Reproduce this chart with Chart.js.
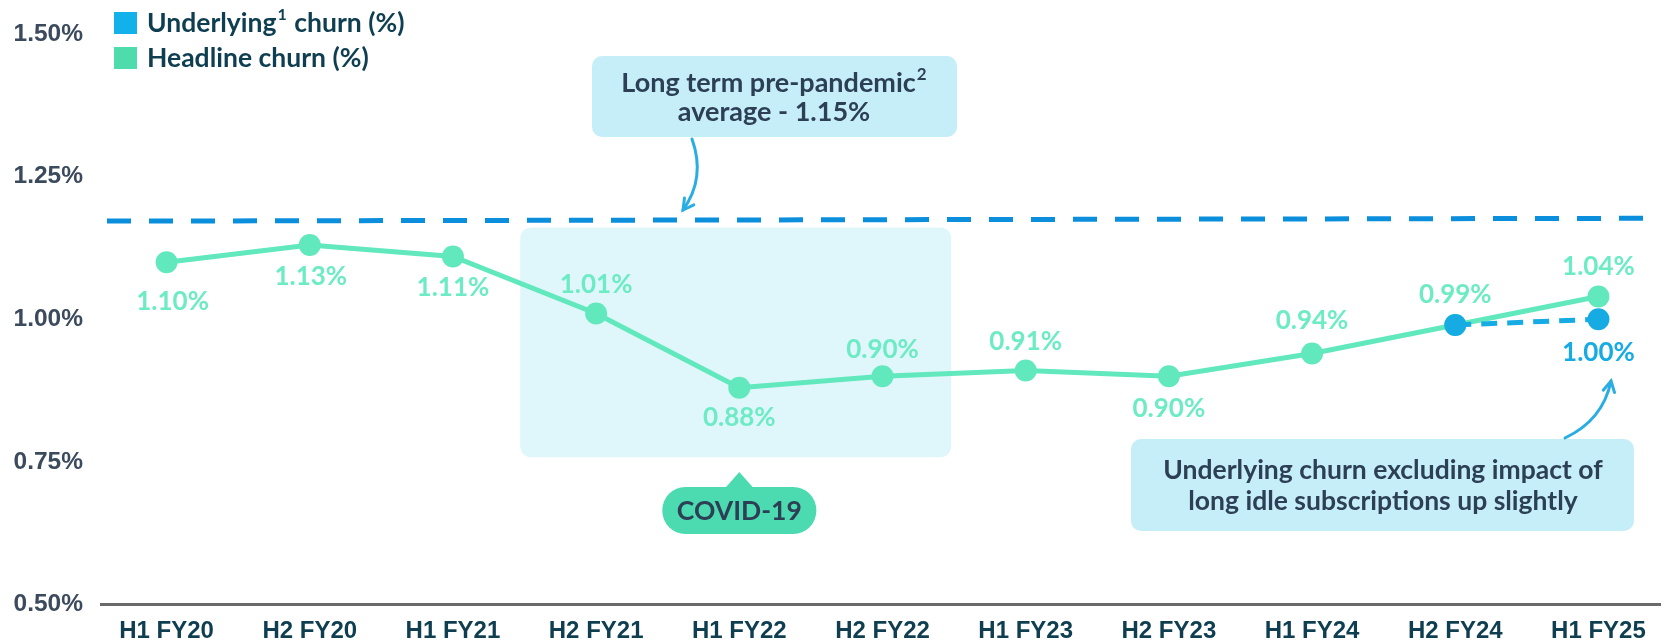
<!DOCTYPE html>
<html>
<head>
<meta charset="utf-8">
<script src="https://cdn.jsdelivr.net/npm/chart.js@4.4.1/dist/chart.umd.min.js"></script>
<style>
  html, body { margin: 0; padding: 0; background: #ffffff; }
  #wrap { width: 1671px; height: 643px; position: relative; }
</style>
</head>
<body>
<div id="wrap"><canvas id="c" width="1671" height="643"></canvas></div>
<script>
// ---- data ----
const categories = ['H1 FY20', 'H2 FY20', 'H1 FY21', 'H2 FY21', 'H1 FY22', 'H2 FY22', 'H1 FY23', 'H2 FY23', 'H1 FY24', 'H2 FY24', 'H1 FY25'];
const headlineChurn = [1.10, 1.13, 1.11, 1.01, 0.88, 0.90, 0.91, 0.90, 0.94, 0.99, 1.04];
const underlyingChurn = [null, null, null, null, null, null, null, null, null, 0.99, 1.00];
const yTickValues = [0.50, 0.75, 1.00, 1.25, 1.50];
const prePandemicLine = [1.172, 1.177]; // drawn level at left / right end
const covidRange = [2.47, 5.48];        // category-index span of the COVID-19 shading
const covidLabelAt = 4;                 // category index under the COVID-19 tag

// ---- label placement (style) ----
const headlineLabelDy = [39, 32, 31, -29, 30, -27, -29, 32, -33, -30, -30];
const headlineLabelDx = [6, 1, 0, 0, 0, 0, 0, 0, 0, 0, 0];
const underlyingLabelDy = 33;

const GREEN_LINE = '#62e8bd';
const GREEN_LABEL = '#6debc4';
const BLUE = '#17abe4';
const NAVY = '#2c3f55';
const TEAL_NAVY = '#0e3e50';
const TEXT_FONT = 'Lato, "Noto Sans", sans-serif';

function roundRect(ctx, x, y, w, h, r) {
  ctx.beginPath();
  ctx.moveTo(x + r, y);
  ctx.lineTo(x + w - r, y);
  ctx.arcTo(x + w, y, x + w, y + r, r);
  ctx.lineTo(x + w, y + h - r);
  ctx.arcTo(x + w, y + h, x + w - r, y + h, r);
  ctx.lineTo(x + r, y + h);
  ctx.arcTo(x, y + h, x, y + h - r, r);
  ctx.lineTo(x, y + r);
  ctx.arcTo(x, y, x + r, y, r);
  ctx.closePath();
}

function supText(ctx, main, sup, x, y, size, align) {
  ctx.font = 'bold ' + size + 'px ' + TEXT_FONT;
  const w1 = ctx.measureText(main).width;
  ctx.font = 'bold ' + Math.round(size * 0.62) + 'px ' + TEXT_FONT;
  const w2 = sup ? ctx.measureText(sup).width + 1 : 0;
  let x0 = x;
  if (align === 'center') x0 = x - (w1 + w2) / 2;
  ctx.textAlign = 'left';
  ctx.textBaseline = 'middle';
  ctx.font = 'bold ' + size + 'px ' + TEXT_FONT;
  ctx.fillText(main, x0, y);
  if (sup) {
    ctx.font = 'bold ' + Math.round(size * 0.62) + 'px ' + TEXT_FONT;
    ctx.fillText(sup, x0 + w1 + 1, y - size * 0.3);
  }
  return w1 + w2;
}

function arrow(ctx, sx, sy, cx, cy, ex, ey) {
  ctx.save();
  ctx.strokeStyle = '#2aaee2';
  ctx.lineWidth = 3;
  ctx.lineCap = 'round';
  ctx.beginPath();
  ctx.moveTo(sx, sy);
  ctx.quadraticCurveTo(cx, cy, ex, ey);
  ctx.stroke();
  const a = Math.atan2(ey - cy, ex - cx);
  const L = 12;
  ctx.beginPath();
  ctx.moveTo(ex - L * Math.cos(a - 0.5), ey - L * Math.sin(a - 0.5));
  ctx.lineTo(ex, ey);
  ctx.lineTo(ex - L * Math.cos(a + 0.5), ey - L * Math.sin(a + 0.5));
  ctx.stroke();
  ctx.restore();
}

const decorations = {
  id: 'decorations',
  beforeDatasetsDraw(chart) {
    const { ctx, scales: { x, y }, chartArea } = chart;
    ctx.save();
    // COVID shading
    const bx0 = x.getPixelForValue(covidRange[0]);
    const bx1 = x.getPixelForValue(covidRange[1]);
    const by0 = y.getPixelForValue(1.161);
    const by1 = y.getPixelForValue(0.758);
    ctx.fillStyle = '#dff6fb';
    roundRect(ctx, bx0, by0, bx1 - bx0, by1 - by0, 11);
    ctx.fill();
    // pre-pandemic average dashed line
    ctx.strokeStyle = '#0b8fdc';
    ctx.lineWidth = 5;
    ctx.setLineDash([24, 18]);
    ctx.beginPath();
    ctx.moveTo(chartArea.left + 6, y.getPixelForValue(prePandemicLine[0]));
    ctx.lineTo(chartArea.right, y.getPixelForValue(prePandemicLine[1]));
    ctx.stroke();
    ctx.setLineDash([]);
    ctx.restore();
  },
  afterDatasetsDraw(chart) {
    const { ctx, scales: { x, y } } = chart;
    ctx.save();
    // data labels
    ctx.font = 'bold 26px ' + TEXT_FONT;
    ctx.textAlign = 'center';
    ctx.textBaseline = 'middle';
    ctx.fillStyle = GREEN_LABEL;
    headlineChurn.forEach((v, i) => {
      const px = x.getPixelForValue(i) + headlineLabelDx[i];
      const py = y.getPixelForValue(v) + headlineLabelDy[i];
      ctx.fillText(v.toFixed(2) + '%', px, py);
    });
    ctx.fillStyle = BLUE;
    const last = underlyingChurn.length - 1;
    ctx.fillText(underlyingChurn[last].toFixed(2) + '%', x.getPixelForValue(last), y.getPixelForValue(underlyingChurn[last]) + underlyingLabelDy);

    // pre-pandemic callout
    ctx.fillStyle = '#c6eef9';
    roundRect(ctx, 592, 56, 365, 81, 10);
    ctx.fill();
    ctx.fillStyle = NAVY;
    supText(ctx, 'Long term pre-pandemic', '2', 774, 83, 27, 'center');
    supText(ctx, 'average - 1.15%', '', 774, 112, 27, 'center');
    arrow(ctx, 692, 139, 706, 178, 683, 210);

    // underlying callout
    ctx.fillStyle = '#c6eef9';
    roundRect(ctx, 1131, 439, 503, 92, 10);
    ctx.fill();
    ctx.fillStyle = NAVY;
    supText(ctx, 'Underlying churn excluding impact of', '', 1383, 470, 26.5, 'center');
    supText(ctx, 'long idle subscriptions up slightly', '', 1383, 501, 26.5, 'center');
    arrow(ctx, 1565, 438, 1603, 420, 1611, 381);

    // COVID-19 tag
    const cx = x.getPixelForValue(covidLabelAt);
    ctx.fillStyle = '#4cdbb0';
    roundRect(ctx, cx - 77, 487, 154, 47, 23);
    ctx.fill();
    ctx.beginPath();
    ctx.moveTo(cx - 15, 489);
    ctx.lineTo(cx, 472);
    ctx.lineTo(cx + 15, 489);
    ctx.closePath();
    ctx.fill();
    ctx.fillStyle = NAVY;
    supText(ctx, 'COVID-19', '', cx, 511, 26.5, 'center');

    // legend
    ctx.fillStyle = '#13b1e9';
    ctx.fillRect(114, 12, 23, 22);
    ctx.fillStyle = '#4fdcac';
    ctx.fillRect(114, 47, 23, 22);
    ctx.fillStyle = TEAL_NAVY;
    const w = supText(ctx, 'Underlying', '1', 147, 23, 26.5, 'left');
    supText(ctx, ' churn (%)', '', 147 + w + 1, 23, 26.5, 'left');
    supText(ctx, 'Headline churn (%)', '', 147, 58, 26.5, 'left');
    ctx.restore();
  }
};

new Chart(document.getElementById('c'), {
  type: 'line',
  data: {
    datasets: [
      {
        label: 'Headline churn (%)',
        data: headlineChurn.map((v, i) => ({ x: i, y: v })),
        borderColor: GREEN_LINE,
        backgroundColor: GREEN_LINE,
        borderWidth: 5,
        pointRadius: 11,
        pointHoverRadius: 11,
        pointBorderWidth: 0,
        tension: 0,
        order: 2
      },
      {
        label: 'Underlying churn (%)',
        data: underlyingChurn.map((v, i) => ({ x: i, y: v })),
        borderColor: BLUE,
        backgroundColor: BLUE,
        borderWidth: 5,
        borderDash: [16, 10],
        pointRadius: 11,
        pointHoverRadius: 11,
        pointBorderWidth: 0,
        spanGaps: false,
        order: 1
      }
    ]
  },
  options: {
    responsive: false,
    animation: false,
    events: [],
    layout: { padding: { top: 34, right: 0, bottom: 0, left: 0 } },
    plugins: { legend: { display: false }, tooltip: { enabled: false } },
    scales: {
      x: {
        type: 'linear',
        min: -0.458,
        max: 10.43,
        afterBuildTicks: (s) => { s.ticks = categories.map((_, i) => ({ value: i })); },
        afterFit: (s) => { s.height = 38.5; },
        grid: { display: false, drawTicks: false },
        border: { display: true, color: '#6a6a6a', width: 3 },
        ticks: {
          autoSkip: false,
          maxRotation: 0,
          padding: 12,
          color: TEAL_NAVY,
          font: { family: '"Liberation Sans", Arial, sans-serif', size: 24, weight: 'bold' },
          callback: (v) => categories[v]
        }
      },
      y: {
        min: 0.5,
        max: 1.5,
        afterBuildTicks: (s) => { s.ticks = yTickValues.map((v) => ({ value: v })); },
        afterFit: (s) => { s.width = 101; },
        grid: { display: false, drawTicks: false },
        border: { display: false },
        ticks: {
          padding: 18,
          color: '#3b4a5c',
          font: { family: '"Liberation Sans", Arial, sans-serif', size: 24.5, weight: 'bold' },
          callback: (v) => v.toFixed(2) + '%'
        }
      }
    }
  },
  plugins: [decorations]
});
</script>
</body>
</html>
